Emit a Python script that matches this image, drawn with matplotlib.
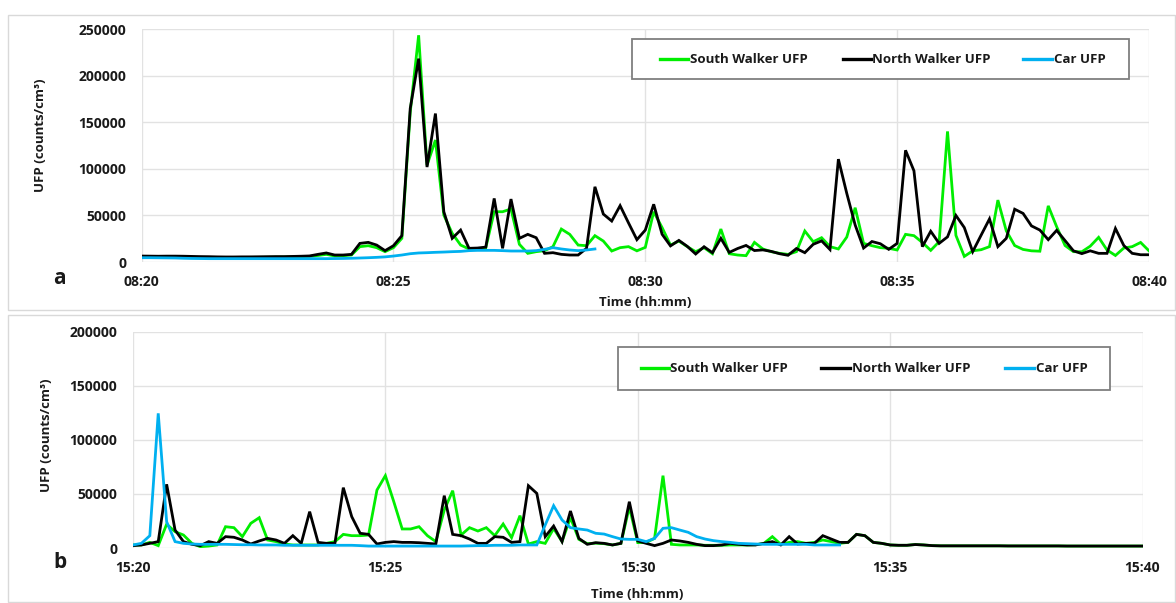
import matplotlib
matplotlib.use("Agg")
import matplotlib.pyplot as plt
from matplotlib.lines import Line2D
from matplotlib.patches import Rectangle
import numpy as np

plt.rcParams['font.family'] = ['Open Sans', 'DejaVu Sans']
plt.rcParams['font.weight'] = 'bold'

# ---------------- data (10-second samples) ----------------
series_labels = ["South Walker UFP", "North Walker UFP", "Car UFP"]
series_colors = ["#00ee00", "#000000", "#00b0f0"]

a_tick_labels = ["08:20", "08:25", "08:30", "08:35", "08:40"]
b_tick_labels = ["15:20", "15:25", "15:30", "15:35", "15:40"]

a_south = [5200, 5300, 5300, 5200, 5200, 5000, 4900, 4800, 4700, 4700,
           4800, 4800, 4900, 5000, 5000, 5100, 5200, 5300, 5500, 5800,
           6000, 7000, 8200, 6500, 6800, 7500, 16500, 17500, 15400, 11100,
           15400, 25400, 161000, 243600, 104000, 131000, 50400, 30800, 18200, 14000,
           14000, 15400, 54000, 54000, 57000, 19000, 9300, 11100, 12200, 16500,
           35400, 29700, 18200, 17500, 28300, 22500, 11800, 15400, 16500, 12000,
           15700, 54000, 37000, 18200, 22500, 16500, 11100, 15400, 8900, 35400,
           8900, 7500, 6800, 21100, 14000, 11100, 9300, 8200, 11100, 33300,
           21800, 26100, 16500, 14000, 26800, 58300, 20000, 17500, 15400, 14700,
           12900, 29700, 28300, 21000, 12500, 21800, 140300, 28600, 6000, 12000,
           13200, 16500, 66500, 33500, 17700, 13500, 12000, 11600, 60300, 37900,
           17700, 11100, 11000, 17000, 26500, 12900, 7000, 15000, 16500, 21000,
           12000]
a_north = [6400, 6300, 6200, 6300, 6300, 6200, 6000, 5800, 5700, 5500,
           5400, 5400, 5500, 5500, 5600, 5700, 5800, 5800, 6000, 6200,
           6500, 8200, 9700, 7500, 7500, 8200, 20000, 21100, 18200, 12200,
           17500, 28300, 165000, 218500, 102000, 159500, 54000, 25400, 34300, 14700,
           15000, 16000, 68300, 14700, 67600, 25400, 29700, 26100, 9300, 10000,
           8200, 7500, 7500, 14700, 80800, 51500, 44000, 60500, 42000, 24000,
           34300, 62000, 29800, 17300, 23200, 16800, 8600, 16400, 10000, 25400,
           10300, 14500, 17800, 12300, 13000, 11400, 8900, 7200, 14500, 10000,
           19000, 22700, 13400, 110500, 73700, 39700, 15000, 22000, 19600, 13600,
           20000, 120000, 98000, 16500, 33000, 20000, 27000, 50000, 37000, 11100,
           28800, 46300, 16500, 25400, 56700, 52200, 38800, 34300, 24000, 34000,
           23000, 12000, 9000, 12000, 9300, 9300, 36000, 17700, 9300, 7800,
           7800]
a_car = [4600, 4600, 4500, 4400, 4300, 4000, 3800, 3700, 3600, 3600,
         3600, 3600, 3600, 3600, 3600, 3600, 3600, 3600, 3600, 3600,
         3600, 3600, 3600, 3700, 3800, 4000, 4300, 4600, 5000, 5500,
         6400, 7500, 8900, 9700, 10000, 10400, 10700, 11100, 11400, 12200,
         12500, 12500, 12500, 12200, 11800, 11800, 11800, 12200, 13600, 15400,
         14000, 12900, 12200, 12900, 14000]

b_south = [2800, 2800, 5200, 2200, 22000, 15100, 12000, 4300, 1200, 1800,
           2800, 19700, 18800, 10500, 22800, 28000, 7400, 5900, 3700, 2800,
           2800, 2800, 2800, 4300, 5900, 12600, 11400, 11400, 12000, 53600,
           66900, 42800, 17600, 17600, 19700, 11400, 5900, 35100, 53000, 12000,
           18800, 15700, 18800, 11400, 22200, 9600, 29900, 3700, 5900, 4300,
           18000, 6000, 28000, 8000, 4000, 4500, 4000, 2800, 4300, 38000,
           5000, 5200, 8900, 66900, 3400, 2800, 2800, 2800, 2500, 2500,
           2500, 2800, 2800, 2800, 3000, 4300, 10500, 3400, 5200, 5900,
           4300, 5200, 7400, 5900, 4300, 5200, 12600, 11400, 5200, 4300,
           2800, 2500, 2500, 3200, 2800, 2200, 2000, 2000, 2000, 2000,
           2000, 2000, 2000, 2000, 1900, 1900, 1900, 1900, 1900, 1900,
           1900, 1800, 1800, 1800, 1800, 1800, 1800, 1800, 1800, 1800,
           1800]
b_north = [2200, 2800, 4300, 5900, 58900, 16600, 5900, 3400, 2200, 5900,
           4300, 10500, 9900, 7400, 3700, 6500, 8900, 7400, 4300, 11400,
           4300, 33600, 5200, 4300, 4300, 55800, 29000, 13600, 12600, 3700,
           5200, 5900, 5200, 5200, 4900, 4300, 3700, 48400, 12600, 11400,
           8300, 4300, 4300, 10500, 9900, 5200, 5900, 57600, 50500, 10500,
           20300, 5900, 34200, 8900, 3400, 4900, 4300, 2800, 4300, 42800,
           6500, 4300, 2200, 4300, 7400, 6500, 5200, 3400, 2200, 2200,
           2800, 4300, 3400, 2800, 2800, 4300, 5900, 2800, 10500, 3700,
           4300, 4300, 11400, 8300, 5200, 5200, 12600, 11400, 5200, 4300,
           2800, 2500, 2500, 3200, 2800, 2200, 2000, 2000, 2000, 2000,
           2000, 2000, 2000, 2000, 1900, 1900, 1900, 1900, 1900, 1900,
           1900, 1800, 1800, 1800, 1800, 1800, 1800, 1800, 1800, 1800,
           1800]
b_car = [2800, 4300, 11400, 124500, 24300, 5900, 4300, 3700, 3400, 3400,
         3400, 3400, 3200, 3000, 3000, 2800, 2800, 2800, 2500, 2500,
         2500, 2500, 2500, 2500, 2500, 2500, 2500, 2200, 1800, 1800,
         1800, 1800, 1800, 1800, 1800, 1800, 1800, 1800, 1800, 1800,
         2000, 2200, 2200, 2500, 2500, 2500, 2800, 2800, 2800, 21300,
         39100, 25900, 18800, 17600, 16600, 13600, 12900, 10500, 8300, 8000,
         8000, 5900, 8900, 18200, 18800, 16600, 14500, 10500, 8300, 6800,
         5900, 5200, 4300, 4000, 3700, 3400, 3400, 3400, 3400, 3400,
         3400, 2800, 2800, 2800, 2800]

sample_step_min = 10 / 60.0

W, H = 1176, 603
fig = plt.figure(figsize=(W / 100, H / 100), dpi=100)
fig.patch.set_facecolor("white")


def fx(px):
    return px / W


def fy(py):
    return 1 - py / H


# panel frames
for (x0, y0, x1, y1) in [(8, 15, 1175, 310), (8, 315, 1175, 602)]:
    fig.add_artist(Rectangle((fx(x0), fy(y1)), fx(x1) - fx(x0), fy(y0) - fy(y1),
                             transform=fig.transFigure, fill=False,
                             edgecolor="#d9d9d9", lw=1.0))


def make_panel(rect, series, ymax, tick_labels, letter, letter_pos,
               ylab_pos, xlab_pos, legend_box, legend_items, ytick_pad):
    l, r, t, b = rect
    ax = fig.add_axes([fx(l), fy(b), fx(r) - fx(l), fy(t) - fy(b)])
    for vals, col in zip(series, series_colors):
        x = np.arange(len(vals)) * sample_step_min
        ax.plot(x, vals, color=col, lw=2.0, solid_joinstyle="miter", zorder=3)
    ax.set_xlim(0, 20)
    ax.set_ylim(0, ymax)
    ax.set_xticks([0, 5, 10, 15, 20])
    ax.set_xticklabels(tick_labels)
    ax.set_yticks(np.arange(0, ymax + 1, 50000))
    ax.set_yticklabels([str(int(v)) for v in np.arange(0, ymax + 1, 50000)])
    ax.grid(True, color="#e2e2e2", lw=1.0, zorder=0)
    for s in ax.spines.values():
        s.set_visible(False)
    ax.tick_params(axis="both", length=0, labelsize=10, colors="#1a1a1a")
    ax.tick_params(axis="y", pad=ytick_pad)
    ax.tick_params(axis="x", pad=9)
    for lab in ax.get_xticklabels() + ax.get_yticklabels():
        lab.set_fontweight("bold")
    # letters and axis titles
    fig.text(fx(letter_pos[0]), fy(letter_pos[1]), letter, fontsize=15,
             fontweight="bold", ha="center", va="center", color="#1a1a1a")
    fig.text(fx(ylab_pos[0]), fy(ylab_pos[1]), "UFP (counts/cm³)", rotation=90,
             fontsize=9.5, fontweight="bold", ha="center", va="center", color="#1a1a1a")
    fig.text(fx(xlab_pos[0]), fy(xlab_pos[1]), "Time (hh:mm)", fontsize=9.5,
             fontweight="bold", ha="center", va="center", color="#1a1a1a")
    # legend
    bx0, by0, bx1, by1 = legend_box
    fig.add_artist(Rectangle((fx(bx0), fy(by1)), fx(bx1) - fx(bx0), fy(by0) - fy(by1),
                             transform=fig.transFigure, facecolor="white",
                             edgecolor="#7f7f7f", lw=1.3, zorder=5))
    yc = (by0 + by1) / 2
    for (h0, h1), lab, col in zip(legend_items, series_labels, series_colors):
        fig.add_artist(Line2D([fx(h0), fx(h1)], [fy(yc), fy(yc)], color=col, lw=2.4,
                              transform=fig.transFigure, zorder=6))
        fig.text(fx(h1 + 1.5), fy(yc), lab, fontsize=9.5, fontweight="bold",
                 ha="left", va="center", color="#1a1a1a", zorder=6)
    return ax


make_panel((141.6, 1149, 29.3, 262), [a_south, a_north, a_car], 250000,
           a_tick_labels, "a", (59, 278), (41, 135), (645, 302),
           (632.5, 39.3, 1129, 79.3), [(660, 688), (843, 871), (1023, 1052)], 11)

make_panel((133, 1142.5, 331.7, 548), [b_south, b_north, b_car], 200000,
           b_tick_labels, "b", (60, 563), (47, 435), (637, 595),
           (618, 346.7, 1110, 390), [(641, 669), (821, 850), (1005, 1034)], 11.5)

fig.savefig("out.png", dpi=100, facecolor="white")
